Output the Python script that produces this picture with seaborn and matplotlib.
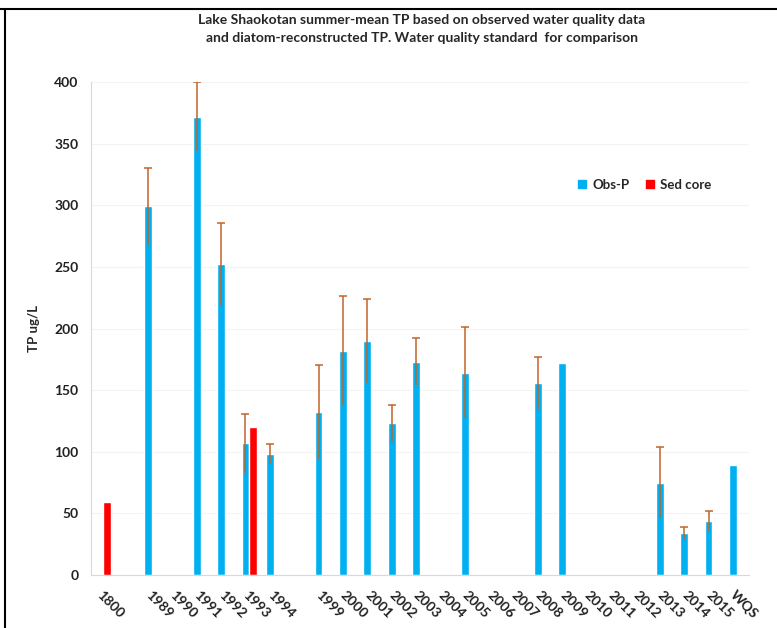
import numpy as np
import pandas as pd
import matplotlib
matplotlib.use("Agg")
import matplotlib.pyplot as plt
import seaborn as sns
from matplotlib.lines import Line2D

# ---- data ----
categories = ["1800", " ", "1989", "1990", "1991", "1992", "1993", "1994", "  ",
              "1999", "2000", "2001", "2002", "2003", "2004", "2005", "2006",
              "2007", "2008", "2009", "2010", "2011", "2012", "2013", "2014",
              "2015", "WQS"]
obs_years = ["1989", "1991", "1992", "1993", "1994", "1999", "2000", "2001",
             "2002", "2003", "2005", "2008", "2009", "2013", "2014", "2015", "WQS"]
obs_values = [299, 372, 252, 107, 98, 132, 182, 190, 123, 173, 164, 156, 172,
              75, 34, 44, 89]
obs_err = [31, 28, 34, 24, 8, 38, 44, 34, 15, 19, 37, 21, 0, 29, 5, 8, 0]
sed_years = ["1800", "1993"]
sed_values = [59, 120]

series_names = ["Obs-P", "Sed core"]
colors = {"Obs-P": "#00B0F0", "Sed core": "#FF0000"}

df = pd.DataFrame({
    "year": obs_years + sed_years,
    "TP": obs_values + sed_values,
    "series": ["Obs-P"] * len(obs_years) + ["Sed core"] * len(sed_years),
})

# ---- figure ----
sns.set_style("white")
plt.rcParams["font.family"] = ["Lato", "DejaVu Sans"]
fig = plt.figure(figsize=(7.77, 6.28), dpi=100)
ax = fig.add_axes([0.117, 0.0844, 0.847, 0.785])

sns.barplot(data=df, x="year", y="TP", hue="series", order=categories,
            hue_order=series_names, palette=colors, width=0.64, dodge=True,
            errorbar=None, saturation=1, ax=ax, legend=False)

# error bars on the Obs-P bars
err_map = dict(zip(obs_years, obs_err))
val_map = dict(zip(obs_years, obs_values))
for bar in ax.containers[0]:
    if np.isnan(bar.get_height()) or bar.get_height() == 0:
        continue
    cx = bar.get_x() + bar.get_width() / 2
    cat = categories[int(round(cx))]
    e = err_map.get(cat, 0)
    if e > 0:
        _, caps, _ = ax.errorbar(cx, val_map[cat], yerr=e, fmt="none",
                                 ecolor="#C0642A", elinewidth=1.1, capsize=3,
                                 capthick=1.1, zorder=5)
        caps[0].set_visible(False)
        caps[1].set_color("#6e5a5a")

ax.set_ylim(0, 400)
ax.set_xlim(-0.5, len(categories) - 0.5)
ax.set_yticks(np.arange(0, 401, 50))
ax.yaxis.grid(True, color="#f3f3f3", linewidth=0.8)
ax.set_axisbelow(True)
for s in ["top", "right"]:
    ax.spines[s].set_visible(False)
for s in ["left", "bottom"]:
    ax.spines[s].set_color("#d9d9d9")
    ax.spines[s].set_linewidth(0.8)

ax.set_xticks(range(len(categories)))
ax.set_xticklabels(categories, rotation=-45, ha="left", rotation_mode="anchor",
                   fontsize=10, fontweight="bold", color="#222222")
for lab in ax.get_yticklabels():
    lab.set_fontweight("bold")
    lab.set_fontsize(10)
    lab.set_color("#222222")
ax.tick_params(axis="both", length=3, color="#d9d9d9", pad=6)
ax.tick_params(axis="x", pad=7)
ax.set_xlabel("")
ax.set_ylabel("TP ug/L", fontsize=9.5, fontweight="bold", labelpad=10)

fig.suptitle("Lake Shaokotan summer-mean TP based on observed water quality data\n"
             "and diatom-reconstructed TP. Water quality standard  for comparison",
             x=0.543, y=0.978, fontsize=10, fontweight="bold", linespacing=1.6)

handles = [Line2D([0], [0], marker="s", linestyle="none", markersize=6,
                  markerfacecolor=colors[n], markeredgecolor=colors[n]) for n in series_names]
leg = ax.legend(handles, series_names, loc="center", bbox_to_anchor=(0.84, 0.791),
                ncol=2, frameon=False, handletextpad=0.3, columnspacing=1.0,
                handlelength=1.0, prop={"weight": "bold", "size": 9.5})

# screenshot frame
fig.add_artist(Line2D([0, 1], [0.985, 0.985], color="black", linewidth=1.5,
                      transform=fig.transFigure))
fig.add_artist(Line2D([0.007, 0.007], [0, 0.985], color="black", linewidth=1.5,
                      transform=fig.transFigure))

fig.savefig("out.png", dpi=100)
